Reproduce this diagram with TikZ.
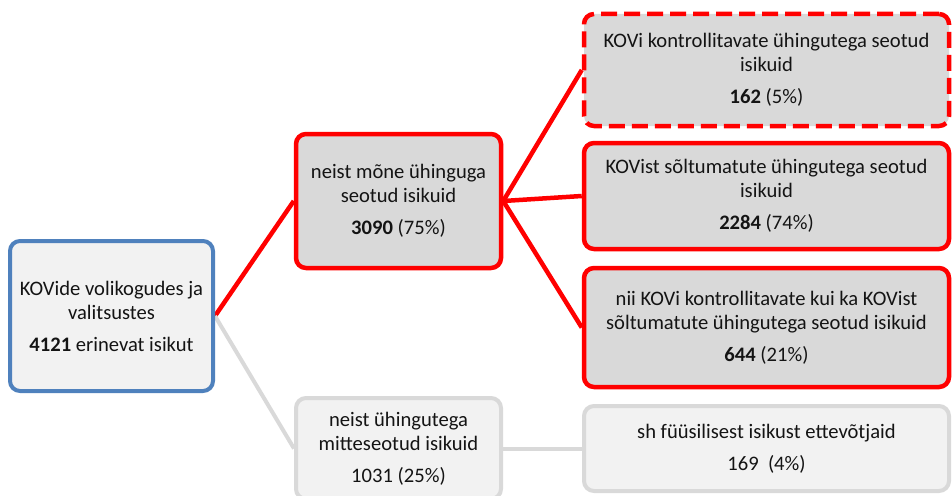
\documentclass[tikz,border=0pt]{standalone}
\usepackage{fontspec}
\setmainfont{Carlito}
\usetikzlibrary{backgrounds}
\definecolor{kred}{HTML}{FF0000}
\definecolor{kblue}{HTML}{4F81BD}
\definecolor{kgray}{HTML}{D9D9D9}
\definecolor{klight}{HTML}{F2F2F2}
\definecolor{ktext}{HTML}{141414}
\tikzset{
  box/.style={rounded corners=10pt, align=center, inner sep=0pt, text=ktext,
    font=\fontsize{20.6}{24}\selectfont},
  bluebox/.style={box, draw=kblue, line width=4pt, fill=klight},
  redbox/.style={box, draw=kred, line width=4.5pt, fill=kgray},
  dashbox/.style={redbox, dash pattern=on 16pt off 7pt},
  graybox/.style={box, draw=kgray, line width=4pt, fill=klight},
  redline/.style={draw=kred, line width=4.5pt},
  grayline/.style={draw=kgray, line width=4pt},
}
\begin{document}
\begin{tikzpicture}[x=1pt,y=-1pt]
\useasboundingbox (0,0) rectangle (952,495);
\node[bluebox, minimum width=203pt, minimum height=150pt] (root) at (111.5,316)
  {KOVide volikogudes ja\\valitsustes\\[8pt]\textbf{4121} erinevat isikut};
\node[redbox, minimum width=205pt, minimum height=134pt] (mid) at (398.5,201)
  {neist mõne ühinguga\\seotud isikuid\\[8pt]\textbf{3090} (75\%)};
\node[dashbox, minimum width=365pt, minimum height=112pt] (kov) at (766.5,70)
  {KOVi kontrollitavate ühingutega seotud\\isikuid\\[8pt]\textbf{162} (5\%)};
\node[redbox, minimum width=365pt, minimum height=106pt] (indep) at (766.5,196)
  {KOVist sõltumatute ühingutega seotud\\isikuid\\[8pt]\textbf{2284} (74\%)};
\node[redbox, minimum width=365pt, minimum height=119pt] (both) at (766.5,327.5)
  {nii KOVi kontrollitavate kui ka KOVist\\sõltumatute ühingutega seotud isikuid\\[8pt]\textbf{644} (21\%)};
\node[graybox, minimum width=205pt, minimum height=101pt] (none) at (398.5,448.5)
  {neist ühingutega\\mitteseotud isikuid\\[8pt]1031 (25\%)};
\node[graybox, minimum width=365pt, minimum height=85pt] (fie) at (766.5,448.5)
  {sh füüsilisest isikust ettevõtjaid\\[8pt]169\ \ (4\%)};
\begin{pgfonlayer}{background}
\draw[redline] (root.east) -- (mid.west);
\draw[redline] (mid.east) -- (kov.west);
\draw[redline] (mid.east) -- (indep.west);
\draw[redline] (mid.east) -- (both.west);
\draw[grayline] (root.east) -- (none.west);
\draw[grayline] (none.east) -- (fie.west);
\end{pgfonlayer}
\end{tikzpicture}
\end{document}
